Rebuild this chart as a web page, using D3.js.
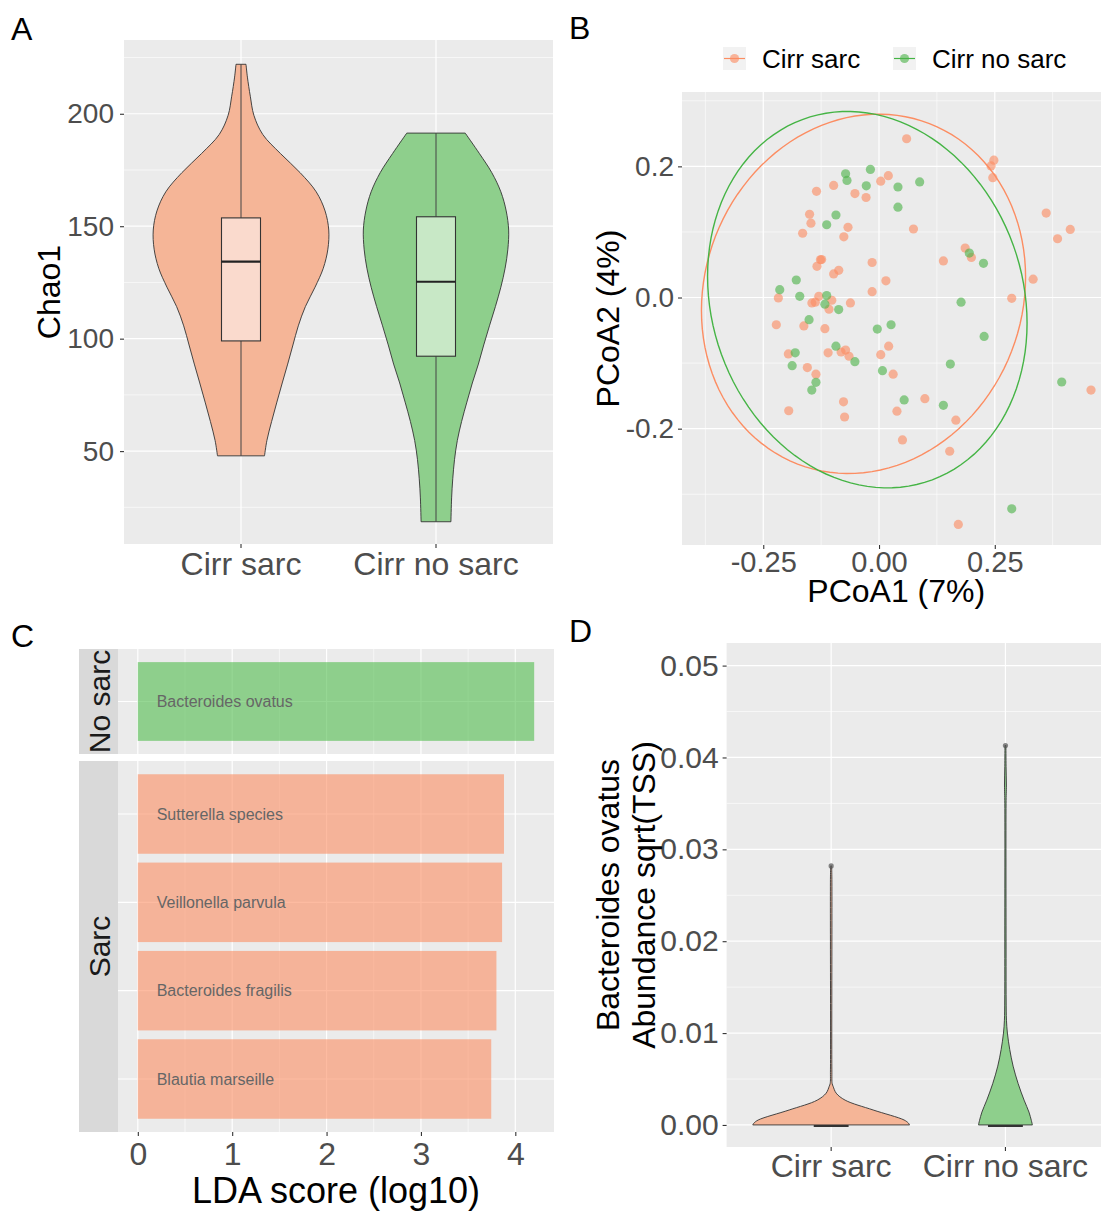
<!DOCTYPE html>
<html>
<head>
<meta charset="utf-8">
<script src="https://cdn.jsdelivr.net/npm/d3@7"></script>
<style>
  body { margin: 0; background: #fff; }
  text { font-family: "Liberation Sans", Arial, sans-serif; }
</style>
</head>
<body>
<script>
// ---- data ----
const groups = ["Cirr sarc", "Cirr no sarc"];

// panel A: Chao1 violin outlines [chao1, relative density]
const chaoSarcViolin = [[222, .057], [216.3, .073], [207.8, .106], [199.3, .147], [190.8, .248], [182.3, .45],
  [173.8, .674], [165.3, .857], [156.8, .958], [148.3, 1.0], [139.8, .99], [131.3, .9375], [122.9, .844],
  [114.3, .734], [105.7, .653], [97.2, .592], [88.7, .532], [80.3, .47], [71.8, .409], [63.2, .349],
  [54.7, .295], [47.9, .268]];
const chaoNoSarcViolin = [[191.4, .333], [182.3, .495], [173.8, .636], [165.3, .739], [156.8, .8], [148.3, .828],
  [139.8, .819], [131.3, .7875], [122.9, .739], [114.3, .677], [105.7, .609], [97.2, .544], [88.7, .483],
  [80.3, .414], [71.8, .352], [63.2, .292], [54.7, .243], [46.2, .211], [37.7, .191], [29.2, .178], [18.6, .17]];
const chaoQ1 = [99, 92.2];
const chaoMedian = [134.3, 125.3];
const chaoQ3 = [153.7, 154.2];
const chaoMin = [47.9, 18.6];
const chaoMax = [222, 191.4];

// panel B: PCoA coordinates [PCoA1, PCoA2]
const pcoaSarc = [[0.0596, 0.2421], [0.248, 0.2095], [0.242, 0.2006], [0.2457, 0.1828], [0.0201, 0.1858],
  [0.0037, 0.1774], [-0.098, 0.171], [-0.135, 0.162], [-0.052, 0.1585], [-0.028, 0.1525], [-0.150, 0.127],
  [-0.147, 0.1134], [-0.165, 0.098], [-0.067, 0.107], [-0.076, 0.0926], [0.0744, 0.1045], [0.361, 0.1288],
  [0.3856, 0.0896], [0.413, 0.1039], [0.186, 0.0754], [0.1995, 0.0611], [0.139, 0.0558], [-0.1266, 0.0576],
  [-0.124, 0.058], [-0.134, 0.0475], [-0.0149, 0.0534], [-0.087, 0.0415], [-0.098, 0.036], [0.0149, 0.0255],
  [0.3328, 0.0279], [-0.0149, 0.0089], [-0.2174, -0.0006], [-0.130, 0.0018], [-0.145, -0.0083],
  [-0.1377, -0.0071], [-0.102, -0.0042], [-0.108, -0.0178], [-0.0618, -0.0083], [0.2866, -0.0012],
  [-0.2218, -0.0415], [-0.1623, -0.0433], [-0.1169, -0.0475], [-0.1958, -0.086], [-0.110, -0.0843],
  [-0.0819, -0.0831], [-0.0722, -0.0801], [-0.0648, -0.0896], [0.0037, -0.0872], [0.0208, -0.0742],
  [-0.1548, -0.1068], [-0.1362, -0.1169], [0.0305, -0.1169], [0.099, -0.1543], [-0.0767, -0.159],
  [-0.195, -0.1727], [-0.0744, -0.1822], [0.0387, -0.1733], [0.166, -0.187], [0.0506, -0.2172],
  [0.1526, -0.2344], [0.1712, -0.346], [0.4578, -0.1412]];
const pcoaNoSarc = [[-0.0186, 0.1953], [-0.0722, 0.1887], [-0.0692, 0.1786], [-0.0275, 0.1703], [0.0878, 0.1763],
  [0.0409, 0.1685], [0.0409, 0.1377], [-0.093, 0.1258], [-0.113, 0.111], [0.195, 0.0677], [0.2256, 0.0522],
  [-0.1787, 0.0267], [-0.2144, 0.0119], [-0.1712, 0.0018], [-0.113, 0.003], [-0.1169, -0.0101],
  [-0.0871, -0.0184], [0.1772, -0.0071], [-0.1511, -0.0338], [0.026, -0.0415], [-0.0037, -0.0481],
  [0.227, -0.0593], [-0.093, -0.0742], [-0.181, -0.0843], [-0.1876, -0.1039], [-0.0521, -0.0979],
  [0.154, -0.1015], [0.0074, -0.1116], [-0.1362, -0.1294], [-0.1452, -0.1412], [0.0543, -0.1561],
  [0.139, -0.1644], [0.3945, -0.1288], [0.2866, -0.3223]];
// 95% ellipses: centre, spread and correlation
const ellipseSarc = { cx: -0.0335, cy: 0.0056, sx: 0.35, sy: 0.274, r: 0.093 };
const ellipseNoSarc = { cx: -0.0253, cy: -0.0033, sx: 0.345, sy: 0.287, r: -0.1245 };

// panel C: LEfSe
const ldaTaxa = ["Bacteroides ovatus", "Sutterella species", "Veillonella parvula", "Bacteroides fragilis", "Blautia marseille"];
const ldaScores = [4.2, 3.88, 3.86, 3.80, 3.745];
const ldaGroup = ["No sarc", "Sarc", "Sarc", "Sarc", "Sarc"];

// panel D: B. ovatus abundance violins [value, relative density]
const ovatusSarcViolin = [[0, 1.0], [0.0002, .985], [0.00054, .93], [0.00163, .535], [0.0027, .178],
  [0.00346, .064], [0.0042, .025], [0.0045, .013], [0.006, .009], [0.027, .009], [0.0282, .006]];
const ovatusNoSarcViolin = [[0, .344], [0.0005, .33], [0.0014, .3], [0.0027, .238], [0.0045, .162],
  [0.0064, .098], [0.0082, .055], [0.01, .025], [0.0114, .013], [0.0136, .009], [0.02, .008],
  [0.035, .008], [0.037, .012], [0.039, .008], [0.0413, .006]];
const ovatusMax = [0.0282, 0.0413];

// tick labels
const ticksA = [50, 100, 150, 200];
const ticksBx = [-0.25, 0, 0.25];
const ticksBy = [-0.2, 0, 0.2];
const ticksC = [0, 1, 2, 3, 4];
const ticksD = [0, 0.01, 0.02, 0.03, 0.04, 0.05];

// ---- drawing ----
const colOrange = "#FC8D62", colGreen = "#4DB34A";
const violinFill = ["#f5b597", "#8ecf8c"];
const boxFill = ["#fadacd", "#c8e8c6"];
const grey = "#ebebeb";

const svg = d3.select("body").append("svg").attr("width", 1101).attr("height", 1212);

function minorOf(ticks) {
  const m = [], step = ticks[1] - ticks[0];
  m.push(ticks[0] - step / 2);
  ticks.forEach(t => m.push(t + step / 2));
  return m;
}

function hGrid(y, vals, x0, x1, w) {
  vals.filter(v => y(v) >= Math.min(...y.range()) && y(v) <= Math.max(...y.range())).forEach(v => {
    svg.append("line").attr("x1", x0).attr("x2", x1).attr("y1", y(v)).attr("y2", y(v))
      .attr("stroke", "#fff").attr("stroke-width", w);
  });
}
function vGrid(xs, y0, y1, w) {
  xs.forEach(px => {
    svg.append("line").attr("x1", px).attr("x2", px).attr("y1", y0).attr("y2", y1)
      .attr("stroke", "#fff").attr("stroke-width", w);
  });
}
function styleAxis(g, size) {
  g.select(".domain").remove();
  g.selectAll(".tick line").attr("stroke", "#333").attr("stroke-width", 1.1);
  g.selectAll(".tick text").attr("fill", "#4d4d4d").style("font-size", size + "px")
    .style("font-family", "'Liberation Sans', Arial, sans-serif")
    .each(function () { this.textContent = this.textContent.replace("\u2212", "-"); });
}
function label(txt, x, y, size, opts) {
  const t = svg.append("text").attr("x", x).attr("y", y).text(txt)
    .style("font-size", size + "px").attr("fill", "#000");
  if (opts && opts.anchor) t.attr("text-anchor", opts.anchor);
  if (opts && opts.rotate) t.attr("transform", "rotate(-90," + x + "," + y + ")");
  return t;
}
function violin(data, cx, w, y, fill) {
  const area = d3.area()
    .y(d => y(d[0]))
    .x0(d => cx - w(d[1]))
    .x1(d => cx + w(d[1]))
    .curve(d3.curveCatmullRom);
  svg.append("path").datum(data).attr("d", area)
    .attr("fill", fill).attr("stroke", "#333").attr("stroke-width", 0.9);
}

// ===== Panel A =====
const A = { x0: 124, x1: 553, y0: 40, y1: 544 };
svg.append("rect").attr("x", A.x0).attr("y", A.y0).attr("width", A.x1 - A.x0).attr("height", A.y1 - A.y0).attr("fill", grey);
const xA = d3.scaleBand().domain(groups).range([A.x0, A.x1]).paddingInner(0.1).paddingOuter(0.15);
const yA = d3.scaleLinear().domain([8.7, 232.8]).range([A.y1, A.y0]);
hGrid(yA, minorOf(ticksA), A.x0, A.x1, 0.6);
hGrid(yA, ticksA, A.x0, A.x1, 1.2);
vGrid(groups.map(g => xA(g) + xA.bandwidth() / 2), A.y0, A.y1, 1.2);
const wA = d3.scaleLinear().domain([0, 1]).range([0, xA.bandwidth() / 2]);
[chaoSarcViolin, chaoNoSarcViolin].forEach((v, i) => violin(v, xA(groups[i]) + xA.bandwidth() / 2, wA, yA, violinFill[i]));
groups.forEach((g, i) => {
  const cx = xA(g) + xA.bandwidth() / 2, hw = xA.bandwidth() * 0.2 / 0.9 / 2;
  svg.append("line").attr("x1", cx).attr("x2", cx).attr("y1", yA(chaoMax[i])).attr("y2", yA(chaoQ3[i]))
    .attr("stroke", "#444").attr("stroke-width", 1);
  svg.append("line").attr("x1", cx).attr("x2", cx).attr("y1", yA(chaoQ1[i])).attr("y2", yA(chaoMin[i]))
    .attr("stroke", "#444").attr("stroke-width", 1);
  svg.append("rect").attr("x", cx - hw).attr("width", 2 * hw).attr("y", yA(chaoQ3[i]))
    .attr("height", yA(chaoQ1[i]) - yA(chaoQ3[i])).attr("fill", boxFill[i]).attr("stroke", "#333").attr("stroke-width", 1.1);
  svg.append("line").attr("x1", cx - hw).attr("x2", cx + hw).attr("y1", yA(chaoMedian[i])).attr("y2", yA(chaoMedian[i]))
    .attr("stroke", "#222").attr("stroke-width", 2.2);
});
styleAxis(svg.append("g").attr("transform", "translate(" + A.x0 + ",0)")
  .call(d3.axisLeft(yA).tickValues(ticksA).tickSize(4).tickPadding(6)), 28);
styleAxis(svg.append("g").attr("transform", "translate(0," + A.y1 + ")")
  .call(d3.axisBottom(xA).tickSize(4).tickPadding(4)), 32);
label("Chao1", 60, (A.y0 + A.y1) / 2, 32, { anchor: "middle", rotate: true });
label("A", 11, 40, 32);

// ===== Panel B =====
const B = { x0: 682, x1: 1110.5, y0: 92, y1: 545 };
svg.append("defs").append("clipPath").attr("id", "clipB").append("rect")
  .attr("x", B.x0).attr("y", B.y0).attr("width", B.x1 - B.x0).attr("height", B.y1 - B.y0);
svg.append("rect").attr("x", B.x0).attr("y", B.y0).attr("width", B.x1 - B.x0).attr("height", B.y1 - B.y0).attr("fill", grey);
const xB = d3.scaleLinear().domain([-0.4255, 0.4999]).range([B.x0, B.x1]);
const yB = d3.scaleLinear().domain([-0.3774, 0.3134]).range([B.y1, B.y0]);
vGrid(minorOf(ticksBx).filter(v => v > -0.4255 && v < 0.4999).map(xB), B.y0, B.y1, 0.6);
hGrid(yB, minorOf(ticksBy), B.x0, B.x1, 0.6);
vGrid(ticksBx.map(xB), B.y0, B.y1, 1.2);
hGrid(yB, ticksBy, B.x0, B.x1, 1.2);
const gB = svg.append("g").attr("clip-path", "url(#clipB)");
[[pcoaSarc, colOrange], [pcoaNoSarc, colGreen]].forEach(([pts, c]) => {
  gB.selectAll(null).data(pts).enter().append("circle")
    .attr("cx", d => xB(d[0])).attr("cy", d => yB(d[1])).attr("r", 4.6)
    .attr("fill", c).attr("fill-opacity", 0.62);
});
function ellipsePoints(e) {
  return d3.range(0, 121).map(i => {
    const t = i / 120 * 2 * Math.PI, u = Math.cos(t), v = Math.sin(t);
    return [e.cx + e.sx * u, e.cy + e.sy * (e.r * u + Math.sqrt(1 - e.r * e.r) * v)];
  });
}
const ellLine = d3.line().x(d => xB(d[0])).y(d => yB(d[1])).curve(d3.curveLinearClosed);
[[ellipseSarc, colOrange], [ellipseNoSarc, "#45B445"]].forEach(([e, c]) => {
  gB.append("path").datum(ellipsePoints(e)).attr("d", ellLine)
    .attr("fill", "none").attr("stroke", c).attr("stroke-width", 1.4);
});
styleAxis(svg.append("g").attr("transform", "translate(" + B.x0 + ",0)")
  .call(d3.axisLeft(yB).tickValues(ticksBy).tickSize(4).tickPadding(4).tickFormat(d3.format(".1f"))), 28);
styleAxis(svg.append("g").attr("transform", "translate(0," + B.y1 + ")")
  .call(d3.axisBottom(xB).tickValues(ticksBx).tickSize(4).tickPadding(2).tickFormat(d3.format(".2f"))), 29);
label("PCoA1 (7%)", (B.x0 + B.x1) / 2, 602, 32, { anchor: "middle" });
label("PCoA2 (4%)", 619, (B.y0 + B.y1) / 2, 32, { anchor: "middle", rotate: true });
label("B", 569, 39, 32);
// legend
const legX = [723, 893];
groups.forEach((g, i) => {
  const c = i === 0 ? colOrange : colGreen;
  svg.append("rect").attr("x", legX[i]).attr("y", 47).attr("width", 23).attr("height", 23).attr("fill", "#f2f2f2");
  svg.append("line").attr("x1", legX[i] + 1).attr("x2", legX[i] + 22).attr("y1", 58.5).attr("y2", 58.5)
    .attr("stroke", i === 0 ? colOrange : "#45B445").attr("stroke-width", 1.2);
  svg.append("circle").attr("cx", legX[i] + 11.5).attr("cy", 58.5).attr("r", 4.6)
    .attr("fill", c).attr("fill-opacity", 0.62);
  label(g, legX[i] + 39, 67.5, 26);
});

// ===== Panel C =====
const C = { x0: 118, x1: 554, strip0: 79 };
const facets = [{ name: "No sarc", y0: 649, y1: 754 }, { name: "Sarc", y0: 761, y1: 1132 }];
const xC = d3.scaleLinear().domain([-0.21, 4.41]).range([C.x0, C.x1]);
facets.forEach((f, k) => {
  const taxa = ldaTaxa.filter((t, i) => ldaGroup[i] === f.name);
  const scores = ldaScores.filter((s, i) => ldaGroup[i] === f.name);
  const yC = d3.scaleBand().domain(taxa).range([f.y0, f.y1]).paddingInner(0.1).paddingOuter(0.15);
  svg.append("rect").attr("x", C.x0).attr("y", f.y0).attr("width", C.x1 - C.x0).attr("height", f.y1 - f.y0).attr("fill", grey);
  vGrid([0.5, 1.5, 2.5, 3.5].map(xC), f.y0, f.y1, 0.6);
  vGrid(ticksC.map(xC), f.y0, f.y1, 1.2);
  taxa.forEach(t => {
    const cy = yC(t) + yC.bandwidth() / 2;
    svg.append("line").attr("x1", C.x0).attr("x2", C.x1).attr("y1", cy).attr("y2", cy).attr("stroke", "#fff").attr("stroke-width", 1.2);
  });
  svg.selectAll(null).data(taxa).enter().append("rect")
    .attr("x", xC(0)).attr("y", d => yC(d)).attr("height", yC.bandwidth())
    .attr("width", (d, i) => xC(scores[i]) - xC(0))
    .attr("fill", f.name === "Sarc" ? colOrange : "#50BC4D").attr("fill-opacity", 0.6);
  svg.selectAll(null).data(taxa).enter().append("text")
    .attr("x", xC(0.2)).attr("y", d => yC(d) + yC.bandwidth() / 2).attr("dy", "0.35em")
    .style("font-size", "16px").attr("fill", "#666").text(d => d);
  // strip
  const clipId = "strip" + k;
  svg.append("clipPath").attr("id", clipId).append("rect")
    .attr("x", C.strip0).attr("y", f.y0).attr("width", C.x0 - C.strip0).attr("height", f.y1 - f.y0);
  svg.append("rect").attr("x", C.strip0).attr("y", f.y0).attr("width", C.x0 - C.strip0).attr("height", f.y1 - f.y0).attr("fill", "#d9d9d9");
  svg.append("g").attr("clip-path", "url(#" + clipId + ")")
    .append("text").attr("x", 109.5).attr("y", (f.y0 + f.y1) / 2).attr("text-anchor", "middle")
    .attr("transform", "rotate(-90,109.5," + ((f.y0 + f.y1) / 2) + ")")
    .style("font-size", "30px").attr("fill", "#1a1a1a").text(f.name);
});
styleAxis(svg.append("g").attr("transform", "translate(0," + facets[1].y1 + ")")
  .call(d3.axisBottom(xC).tickValues(ticksC).tickSize(4).tickPadding(6.5).tickFormat(d3.format("d"))), 32);
label("LDA score (log10)", (C.x0 + C.x1) / 2, 1203, 36, { anchor: "middle" });
label("C", 11, 647, 32);

// ===== Panel D =====
const D = { x0: 726.6, x1: 1110, y0: 643, y1: 1147 };
svg.append("rect").attr("x", D.x0).attr("y", D.y0).attr("width", D.x1 - D.x0).attr("height", D.y1 - D.y0).attr("fill", grey);
const xD = d3.scaleBand().domain(groups).range([D.x0, D.x1]).paddingInner(0.1).paddingOuter(0.15);
const yD = d3.scaleLinear().domain([-0.0024, 0.05246]).range([D.y1, D.y0]);
hGrid(yD, [0.005, 0.015, 0.025, 0.035, 0.045], D.x0, D.x1, 0.6);
hGrid(yD, ticksD, D.x0, D.x1, 1.2);
vGrid(groups.map(g => xD(g) + xD.bandwidth() / 2), D.y0, D.y1, 1.2);
const wD = d3.scaleLinear().domain([0, 1]).range([0, xD.bandwidth() / 2]);
[ovatusSarcViolin, ovatusNoSarcViolin].forEach((v, i) => violin(v, xD(groups[i]) + xD.bandwidth() / 2, wD, yD, violinFill[i]));
groups.forEach((g, i) => {
  const cx = xD(g) + xD.bandwidth() / 2, hw = xD.bandwidth() * 0.2 / 0.9 / 2;
  svg.append("line").attr("x1", cx - hw).attr("x2", cx + hw).attr("y1", yD(0) + 1).attr("y2", yD(0) + 1)
    .attr("stroke", "#333").attr("stroke-width", 2);
  svg.append("circle").attr("cx", cx).attr("cy", yD(ovatusMax[i])).attr("r", 2.6)
    .attr("fill", "#555").attr("fill-opacity", 0.7);
});
styleAxis(svg.append("g").attr("transform", "translate(" + D.x0 + ",0)")
  .call(d3.axisLeft(yD).tickValues(ticksD).tickSize(4).tickPadding(4).tickFormat(d3.format(".2f"))), 30);
styleAxis(svg.append("g").attr("transform", "translate(0," + D.y1 + ")")
  .call(d3.axisBottom(xD).tickSize(4).tickPadding(3.3)), 32);
label("Bacteroides ovatus", 619, (D.y0 + D.y1) / 2, 32, { anchor: "middle", rotate: true });
label("Abundance sqrt(TSS)", 655, (D.y0 + D.y1) / 2, 32, { anchor: "middle", rotate: true });
label("D", 569, 642, 32);
</script>
</body>
</html>
